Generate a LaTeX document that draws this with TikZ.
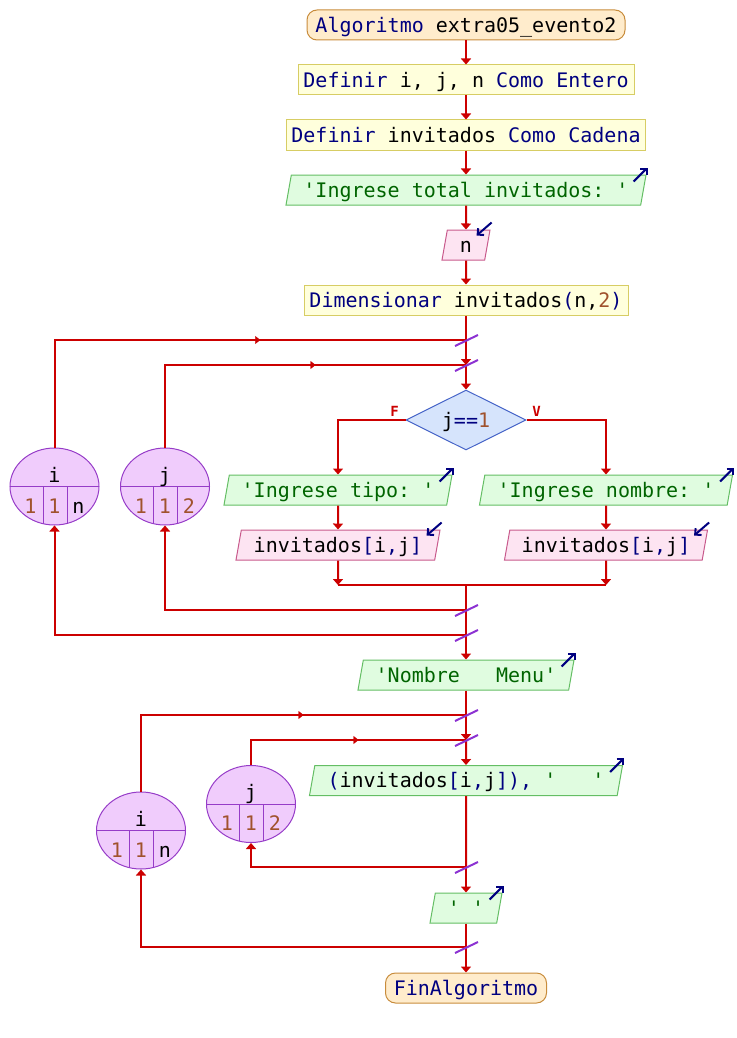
\documentclass[tikz,border=0pt]{standalone}
\usepackage{fontspec}
\setmonofont{DejaVu Sans Mono}
\usetikzlibrary{shapes.geometric,arrows.meta,decorations.markings}

\definecolor{flowred}{RGB}{204,0,0}
\definecolor{kwblue}{RGB}{0,0,128}
\definecolor{strgreen}{RGB}{0,100,0}
\definecolor{numbrown}{RGB}{160,82,45}
\definecolor{termfill}{RGB}{255,236,204}
\definecolor{termln}{RGB}{200,140,60}
\definecolor{procfill}{RGB}{255,255,220}
\definecolor{procln}{RGB}{215,205,100}
\definecolor{outfill}{RGB}{224,252,224}
\definecolor{outln}{RGB}{100,190,100}
\definecolor{infill}{RGB}{253,228,242}
\definecolor{inln}{RGB}{200,90,140}
\definecolor{decfill}{RGB}{214,228,252}
\definecolor{decln}{RGB}{70,100,200}
\definecolor{loopfill}{RGB}{240,204,252}
\definecolor{loopln}{RGB}{150,60,200}
\definecolor{slashc}{RGB}{140,50,210}

% syntax colouring helpers
\newcommand\kw[1]{\textcolor{kwblue}{#1}}
\newcommand\sq[1]{\textcolor{strgreen}{#1}}
\newcommand\nm[1]{\textcolor{numbrown}{#1}}

\tikzset{
  codetext/.style={font=\ttfamily\fontsize{20}{24}\selectfont, inner sep=0pt,
    text height=14.6pt, text depth=0pt, minimum height=30pt, line width=1pt},
  term/.style={codetext, draw=termln, fill=termfill, rounded corners=10pt},
  proc/.style={codetext, draw=procln, fill=procfill},
  iobox/.style={codetext, trapezium, trapezium left angle=70,
    trapezium right angle=110, trapezium stretches body},
  outp/.style={iobox, draw=outln, fill=outfill, text=strgreen},
  inp/.style={iobox, draw=inln, fill=infill},
  decbox/.style={codetext, diamond, aspect=2, draw=decln, fill=decfill,
    minimum width=120pt, minimum height=60pt},
  loopc/.style={ellipse, draw=loopln, fill=loopfill, line width=1pt,
    minimum width=89pt, minimum height=77pt, inner sep=0pt},
  loopdiv/.style={draw=loopln, line width=1pt},
  vartext/.style={font=\ttfamily\fontsize{20}{24}\selectfont, inner sep=0pt, anchor=base},
  wire/.style={draw=flowred, line width=2pt},
  flowarrow/.style={wire, -{Triangle[length=6pt,width=10pt]}},
  midarrow/.style={postaction={decorate}, decoration={markings,
    mark=at position 0.5 with {\arrow[flowred]{Triangle[length=5pt,width=8pt]}}}},
  crossmark/.style={draw=slashc, line width=2pt},
  iomark/.style={draw=kwblue, line width=2pt, -{Straight Barb[length=4.5pt,width=9pt]}},
  brlabel/.style={font=\ttfamily\bfseries\fontsize{14}{16}\selectfont, text=flowred, inner sep=0pt}
}

% loop counter: name, centre, variable, from, step, to
\newcommand\loopnode[6]{%
  \node[loopc] (#1) at (#2) {};
  \begin{scope}
    \clip (#1.center) ellipse [x radius=44.5pt, y radius=38.5pt];
    \draw[loopdiv] (#1.west) -- (#1.east);
    \draw[loopdiv] ([xshift=-11.5pt]#1.center) -- ++(0,40);
    \draw[loopdiv] ([xshift=12.5pt]#1.center) -- ++(0,40);
  \end{scope}
  \node[vartext] at ([yshift=4.5pt]#1.center) {#3};
  \node[vartext] at ([shift={(-24,26.5)}]#1.center) {#4};
  \node[vartext] at ([shift={(0,26.5)}]#1.center) {#5};
  \node[vartext] at ([shift={(24,26.5)}]#1.center) {#6};
}
% small arrows on input/output symbols
\newcommand\outmark[1]{\draw[iomark] ([shift={(-13,7)}]#1.top right corner) -- ([shift={(1,-7)}]#1.top right corner);}
\newcommand\inmark[1]{\draw[iomark] ([shift={(1,-7)}]#1.top right corner) -- ([shift={(-14,6)}]#1.top right corner);}
\newcommand\junction[1]{\draw[crossmark] ([shift={(-11,6)}]#1) -- ([shift={(12,-5)}]#1);}

\frenchspacing
\begin{document}
\begin{tikzpicture}[x=1pt,y=-1pt]
\useasboundingbox (0,0) rectangle (736,1038);

% main sequence
\node[term, minimum width=318pt] (start) at (466,25) {\kw{Algoritmo} extra05\_evento2};
\node[proc, minimum width=336pt] (def1) at (466,80) {\kw{Definir} i, j, n \kw{Como Entero}};
\node[proc, minimum width=359pt] (def2) at (466,135) {\kw{Definir} invitados \kw{Como Cadena}};
\node[outp, minimum width=360pt] (out1) at (466,190) {'Ingrese total invitados: '};
\node[inp, minimum width=48pt] (in1) at (466,245) {n};
\node[proc, minimum width=324pt] (dim) at (466,300) {\kw{Dimensionar} invitados\kw{(}n,\nm{2}\kw{)}};

\coordinate (ji1) at (466,340);
\coordinate (jj1) at (466,365);
\node[decbox] (dec) at (466,420) {j\kw{==}\nm{1}};
\node[brlabel] (lf) at ([shift={(-11,-9)}]dec.west) {F};
\node[brlabel] (lv) at ([shift={(10,-9)}]dec.east) {V};

\node[outp, minimum width=228pt] (outT) at (338,490) {'Ingrese tipo: '};
\node[inp, minimum width=204pt] (inT) at (338,545) {invitados\kw{[}i\kw{,}j\kw{]}};
\node[outp, minimum width=253pt] (outN) at (606,490) {'Ingrese nombre: '};
\node[inp, minimum width=203pt] (inN) at (606,545) {invitados\kw{[}i\kw{,}j\kw{]}};

\coordinate (mL) at (338,585);
\coordinate (mR) at (606,585);
\coordinate (mg) at (466,585);
\coordinate (ej1) at (466,610);
\coordinate (ei1) at (466,635);

\node[outp, minimum width=216pt] (outM) at (466,675) {'Nombre~~~Menu'};
\coordinate (ji2) at (466,715);
\coordinate (jj2) at (466,740);
\node[outp, minimum width=313pt, text=black] (outL) at (466,780.5) {\kw{(}invitados\kw{[}i\kw{,}j\kw{]),} \sq{'~~~'}};
\coordinate (ej2) at (466,867);
\node[outp, minimum width=72pt] (outNL) at (466,908) {'~'};
\coordinate (ei2) at (466,947);
\node[term, minimum width=161pt] (fin) at (466,988) {\kw{FinAlgoritmo}};

% loop counters
\loopnode{ci1}{54.5,486.5}{i}{\nm{1}}{\nm{1}}{n}
\loopnode{cj1}{165,486.5}{j}{\nm{1}}{\nm{1}}{\nm{2}}
\loopnode{ci2}{141,830.5}{i}{\nm{1}}{\nm{1}}{n}
\loopnode{cj2}{251,804}{j}{\nm{1}}{\nm{1}}{\nm{2}}

% input/output markers
\outmark{out1}
\inmark{in1}
\outmark{outT}
\inmark{inT}
\outmark{outN}
\inmark{inN}
\outmark{outM}
\outmark{outL}
\outmark{outNL}

% connectors
\draw[flowarrow] (start) -- (def1);
\draw[flowarrow] (def1) -- (def2);
\draw[flowarrow] (def2) -- (out1);
\draw[flowarrow] (out1) -- (in1);
\draw[flowarrow] (in1) -- (dim);
\draw[wire] (dim) -- (ji1);
\draw[flowarrow] (ji1) -- (jj1);
\draw[flowarrow] (jj1) -- (dec);
\draw[flowarrow] (dec.west) -| (outT.north);
\draw[flowarrow] (dec.east) -| (outN.north);
\draw[flowarrow] (outT) -- (inT);
\draw[flowarrow] (outN) -- (inN);
\draw[flowarrow] (inT.south) -- (mL);
\draw[flowarrow] (inN.south) -- (mR);
\draw[wire] (mL) -- (mR);
\draw[wire] (mg) -- (ej1) -- (ei1);
\draw[flowarrow] (ei1) -- (outM);
\draw[flowarrow] (ej1) -| (cj1.south);
\draw[flowarrow] (ei1) -| (ci1.south);
\draw[wire] (ci1.north) |- (ji1);
\draw[wire] (cj1.north) |- (jj1);
\path[midarrow] (ci1.north |- ji1) -- (ji1);
\path[midarrow] (cj1.north |- jj1) -- (jj1);

\draw[wire] (outM) -- (ji2);
\draw[flowarrow] (ji2) -- (jj2);
\draw[flowarrow] (jj2) -- (outL);
\draw[wire] (outL) -- (ej2);
\draw[flowarrow] (ej2) -- (outNL);
\draw[wire] (outNL) -- (ei2);
\draw[flowarrow] (ei2) -- (fin);
\draw[flowarrow] (ej2) -| (cj2.south);
\draw[flowarrow] (ei2) -| (ci2.south);
\draw[wire] (ci2.north) |- (ji2);
\draw[wire] (cj2.north) |- (jj2);
\path[midarrow] (ci2.north |- ji2) -- (ji2);
\path[midarrow] (cj2.north |- jj2) -- (jj2);

% loop junction marks
\junction{ji1}
\junction{jj1}
\junction{ej1}
\junction{ei1}
\junction{ji2}
\junction{jj2}
\junction{ej2}
\junction{ei2}
\end{tikzpicture}
\end{document}
